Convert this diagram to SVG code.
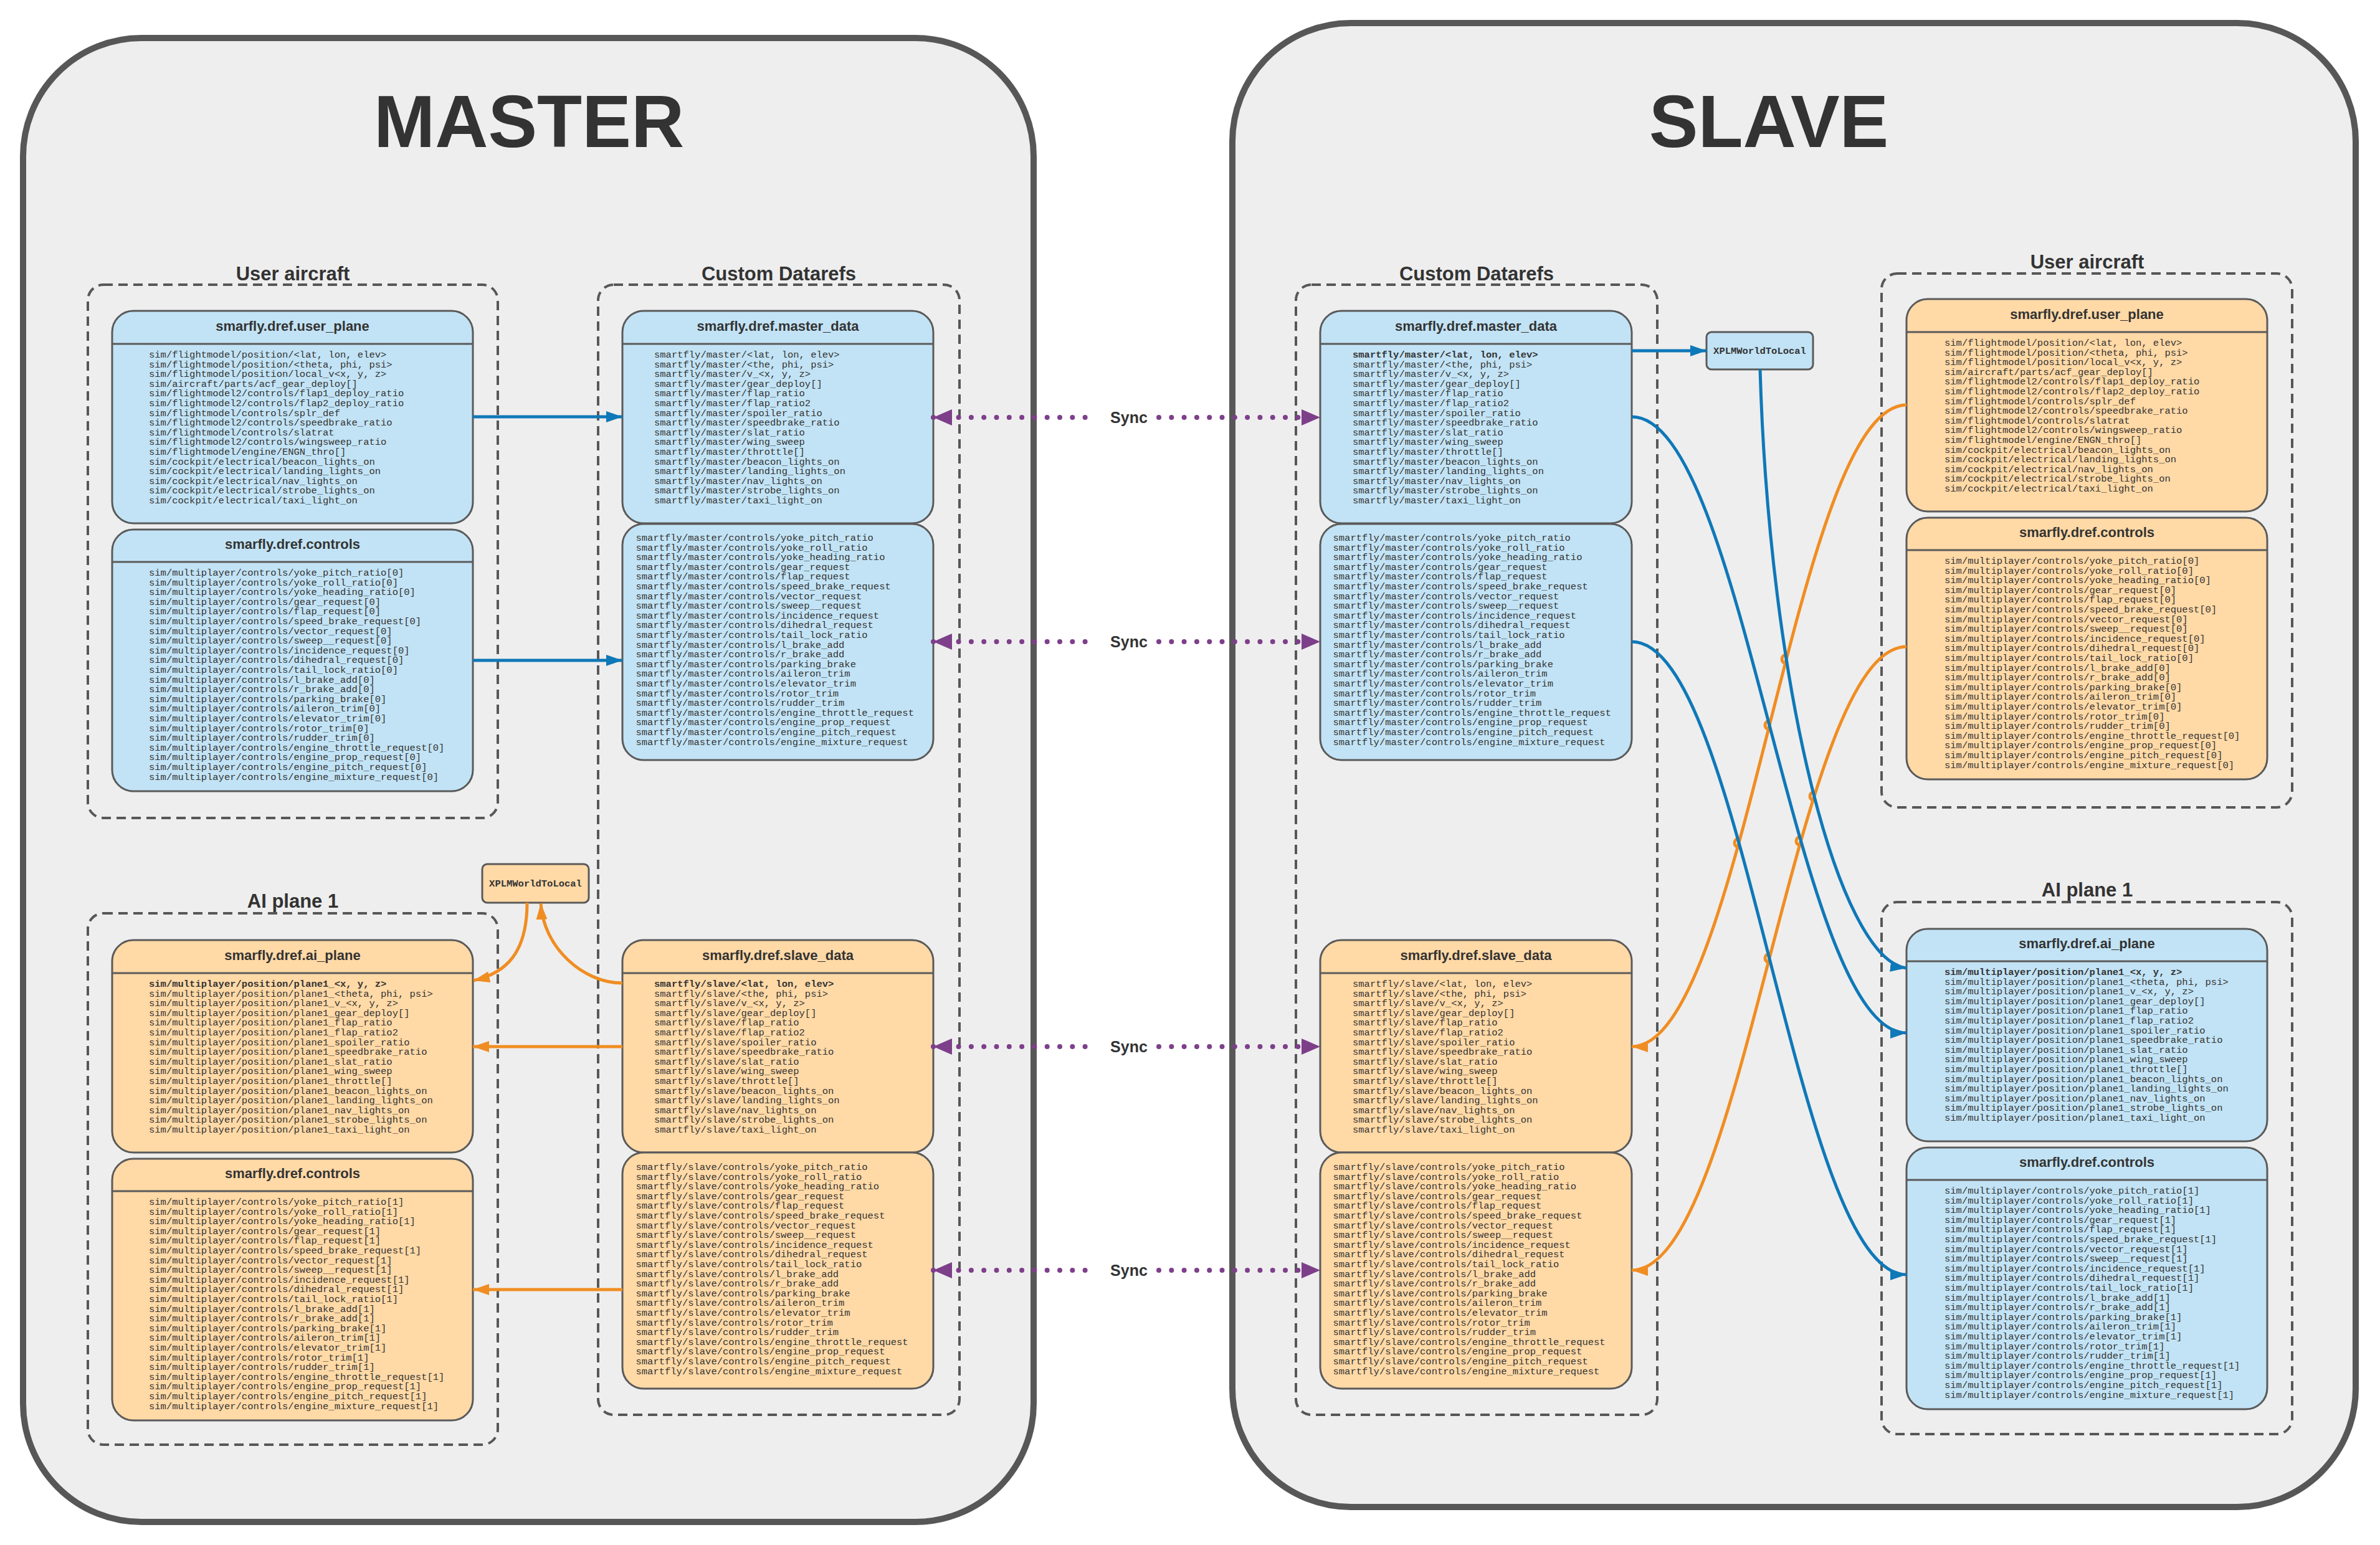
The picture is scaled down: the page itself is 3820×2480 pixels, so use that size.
<svg xmlns="http://www.w3.org/2000/svg" width="3820" height="2480" viewBox="0 0 3820 2480">
<defs>
<style>
.panel{fill:#eeeeee;stroke:#575757;stroke-width:10}
.ptitle{font-family:"Liberation Sans",Arial,sans-serif;font-weight:bold;font-size:118px;fill:#333333;text-anchor:middle}
.cluster{fill:none;stroke:#575757;stroke-width:4;stroke-dasharray:15 9}
.clabel{font-family:"Liberation Sans",Arial,sans-serif;font-weight:bold;font-size:31px;fill:#333333;text-anchor:middle}
.blue{fill:#c2e3f5;stroke:#5a5a5a;stroke-width:3}
.orange{fill:#ffd9a6;stroke:#5a5a5a;stroke-width:3}
.hdr{stroke:#5a5a5a;stroke-width:3}
.ntitle{font-family:"Liberation Sans",Arial,sans-serif;font-weight:bold;font-size:22px;fill:#333333;text-anchor:middle}
.m{font-family:"Liberation Mono","Courier New",monospace;font-size:15.5px;fill:#333333}
.xb{font-family:"Liberation Mono","Courier New",monospace;font-size:15.5px;font-weight:bold;fill:#333333;text-anchor:middle}
.eb{fill:none;stroke:#0f78b8;stroke-width:5}
.eo{fill:none;stroke:#f08d22;stroke-width:5}
.sync{fill:none;stroke:#7e3f8a;stroke-width:8;stroke-linecap:round;stroke-dasharray:0 20.3}
.slabel{font-family:"Liberation Sans",Arial,sans-serif;font-weight:bold;font-size:25px;fill:#333333;text-anchor:middle}
</style>
<marker id="ab" markerUnits="userSpaceOnUse" markerWidth="28" markerHeight="20" refX="26" refY="9" orient="auto"><path d="M0,0 L26,9 L0,18 z" fill="#0f78b8"/></marker>
<marker id="ao" markerUnits="userSpaceOnUse" markerWidth="28" markerHeight="20" refX="26" refY="9" orient="auto"><path d="M0,0 L26,9 L0,18 z" fill="#f08d22"/></marker>
<marker id="ap" markerUnits="userSpaceOnUse" markerWidth="32" markerHeight="28" refX="30" refY="13" orient="auto-start-reverse"><path d="M0,0 L30,13 L0,26 z" fill="#7e3f8a"/></marker>
</defs>
<rect x="0" y="0" width="3820" height="2480" fill="#ffffff"/>

<g id="panel-master">
<rect class="panel" x="37" y="61" width="1622" height="2382" rx="190" ry="190"/>
<text class="ptitle" x="849" y="236">MASTER</text>
</g>
<g id="panel-slave">
<rect class="panel" x="1978" y="37" width="1803" height="2382" rx="190" ry="190"/>
<text class="ptitle" x="2839" y="236">SLAVE</text>
</g>

<g id="clusters">
<rect class="cluster" x="141" y="457" width="658" height="856" rx="25"/>
<text class="clabel" x="470" y="450">User aircraft</text>
<rect class="cluster" x="960" y="457" width="580" height="1814" rx="25"/>
<text class="clabel" x="1250" y="450">Custom Datarefs</text>
<rect class="cluster" x="141" y="1466" width="658" height="853" rx="25"/>
<text class="clabel" x="470" y="1457">AI plane 1</text>
<rect class="cluster" x="2080" y="457" width="580" height="1814" rx="25"/>
<text class="clabel" x="2370" y="450">Custom Datarefs</text>
<rect class="cluster" x="3020" y="439" width="659" height="857" rx="25"/>
<text class="clabel" x="3350" y="431">User aircraft</text>
<rect class="cluster" x="3020" y="1448" width="659" height="854" rx="25"/>
<text class="clabel" x="3350" y="1439">AI plane 1</text>
</g>

<g id="m-user-plane">
<rect class="blue" x="180" y="499" width="579" height="341" rx="34"/>
<line class="hdr" x1="180" y1="552" x2="759" y2="552"/>
<text class="ntitle" x="469.5" y="531">smarfly.dref.user_plane</text>
<text class="m" x="239" y="574"><tspan x="239">sim/flightmodel/position/&lt;lat, lon, elev&gt;</tspan><tspan x="239" dy="15.6">sim/flightmodel/position/&lt;theta, phi, psi&gt;</tspan><tspan x="239" dy="15.6">sim/flightmodel/position/local_v&lt;x, y, z&gt;</tspan><tspan x="239" dy="15.6">sim/aircraft/parts/acf_gear_deploy[]</tspan><tspan x="239" dy="15.6">sim/flightmodel2/controls/flap1_deploy_ratio</tspan><tspan x="239" dy="15.6">sim/flightmodel2/controls/flap2_deploy_ratio</tspan><tspan x="239" dy="15.6">sim/flightmodel/controls/splr_def</tspan><tspan x="239" dy="15.6">sim/flightmodel2/controls/speedbrake_ratio</tspan><tspan x="239" dy="15.6">sim/flightmodel/controls/slatrat</tspan><tspan x="239" dy="15.6">sim/flightmodel2/controls/wingsweep_ratio</tspan><tspan x="239" dy="15.6">sim/flightmodel/engine/ENGN_thro[]</tspan><tspan x="239" dy="15.6">sim/cockpit/electrical/beacon_lights_on</tspan><tspan x="239" dy="15.6">sim/cockpit/electrical/landing_lights_on</tspan><tspan x="239" dy="15.6">sim/cockpit/electrical/nav_lights_on</tspan><tspan x="239" dy="15.6">sim/cockpit/electrical/strobe_lights_on</tspan><tspan x="239" dy="15.6">sim/cockpit/electrical/taxi_light_on</tspan></text>
</g>

<g id="m-user-controls">
<rect class="blue" x="180" y="850" width="579" height="420" rx="34"/>
<line class="hdr" x1="180" y1="902" x2="759" y2="902"/>
<text class="ntitle" x="469.5" y="881">smarfly.dref.controls</text>
<text class="m" x="239" y="924"><tspan x="239">sim/multiplayer/controls/yoke_pitch_ratio[0]</tspan><tspan x="239" dy="15.6">sim/multiplayer/controls/yoke_roll_ratio[0]</tspan><tspan x="239" dy="15.6">sim/multiplayer/controls/yoke_heading_ratio[0]</tspan><tspan x="239" dy="15.6">sim/multiplayer/controls/gear_request[0]</tspan><tspan x="239" dy="15.6">sim/multiplayer/controls/flap_request[0]</tspan><tspan x="239" dy="15.6">sim/multiplayer/controls/speed_brake_request[0]</tspan><tspan x="239" dy="15.6">sim/multiplayer/controls/vector_request[0]</tspan><tspan x="239" dy="15.6">sim/multiplayer/controls/sweep__request[0]</tspan><tspan x="239" dy="15.6">sim/multiplayer/controls/incidence_request[0]</tspan><tspan x="239" dy="15.6">sim/multiplayer/controls/dihedral_request[0]</tspan><tspan x="239" dy="15.6">sim/multiplayer/controls/tail_lock_ratio[0]</tspan><tspan x="239" dy="15.6">sim/multiplayer/controls/l_brake_add[0]</tspan><tspan x="239" dy="15.6">sim/multiplayer/controls/r_brake_add[0]</tspan><tspan x="239" dy="15.6">sim/multiplayer/controls/parking_brake[0]</tspan><tspan x="239" dy="15.6">sim/multiplayer/controls/aileron_trim[0]</tspan><tspan x="239" dy="15.6">sim/multiplayer/controls/elevator_trim[0]</tspan><tspan x="239" dy="15.6">sim/multiplayer/controls/rotor_trim[0]</tspan><tspan x="239" dy="15.6">sim/multiplayer/controls/rudder_trim[0]</tspan><tspan x="239" dy="15.6">sim/multiplayer/controls/engine_throttle_request[0]</tspan><tspan x="239" dy="15.6">sim/multiplayer/controls/engine_prop_request[0]</tspan><tspan x="239" dy="15.6">sim/multiplayer/controls/engine_pitch_request[0]</tspan><tspan x="239" dy="15.6">sim/multiplayer/controls/engine_mixture_request[0]</tspan></text>
</g>

<g id="m-master-data">
<rect class="blue" x="999" y="499" width="499" height="341" rx="34"/>
<line class="hdr" x1="999" y1="552" x2="1498" y2="552"/>
<text class="ntitle" x="1248.5" y="531">smarfly.dref.master_data</text>
<text class="m" x="1050" y="574"><tspan x="1050">smartfly/master/&lt;lat, lon, elev&gt;</tspan><tspan x="1050" dy="15.6">smartfly/master/&lt;the, phi, psi&gt;</tspan><tspan x="1050" dy="15.6">smartfly/master/v_&lt;x, y, z&gt;</tspan><tspan x="1050" dy="15.6">smartfly/master/gear_deploy[]</tspan><tspan x="1050" dy="15.6">smartfly/master/flap_ratio</tspan><tspan x="1050" dy="15.6">smartfly/master/flap_ratio2</tspan><tspan x="1050" dy="15.6">smartfly/master/spoiler_ratio</tspan><tspan x="1050" dy="15.6">smartfly/master/speedbrake_ratio</tspan><tspan x="1050" dy="15.6">smartfly/master/slat_ratio</tspan><tspan x="1050" dy="15.6">smartfly/master/wing_sweep</tspan><tspan x="1050" dy="15.6">smartfly/master/throttle[]</tspan><tspan x="1050" dy="15.6">smartfly/master/beacon_lights_on</tspan><tspan x="1050" dy="15.6">smartfly/master/landing_lights_on</tspan><tspan x="1050" dy="15.6">smartfly/master/nav_lights_on</tspan><tspan x="1050" dy="15.6">smartfly/master/strobe_lights_on</tspan><tspan x="1050" dy="15.6">smartfly/master/taxi_light_on</tspan></text>
</g>

<g id="m-master-controls">
<rect class="blue" x="999" y="841" width="499" height="379" rx="34"/>
<text class="m" x="1020.5" y="868"><tspan x="1020.5">smartfly/master/controls/yoke_pitch_ratio</tspan><tspan x="1020.5" dy="15.6">smartfly/master/controls/yoke_roll_ratio</tspan><tspan x="1020.5" dy="15.6">smartfly/master/controls/yoke_heading_ratio</tspan><tspan x="1020.5" dy="15.6">smartfly/master/controls/gear_request</tspan><tspan x="1020.5" dy="15.6">smartfly/master/controls/flap_request</tspan><tspan x="1020.5" dy="15.6">smartfly/master/controls/speed_brake_request</tspan><tspan x="1020.5" dy="15.6">smartfly/master/controls/vector_request</tspan><tspan x="1020.5" dy="15.6">smartfly/master/controls/sweep__request</tspan><tspan x="1020.5" dy="15.6">smartfly/master/controls/incidence_request</tspan><tspan x="1020.5" dy="15.6">smartfly/master/controls/dihedral_request</tspan><tspan x="1020.5" dy="15.6">smartfly/master/controls/tail_lock_ratio</tspan><tspan x="1020.5" dy="15.6">smartfly/master/controls/l_brake_add</tspan><tspan x="1020.5" dy="15.6">smartfly/master/controls/r_brake_add</tspan><tspan x="1020.5" dy="15.6">smartfly/master/controls/parking_brake</tspan><tspan x="1020.5" dy="15.6">smartfly/master/controls/aileron_trim</tspan><tspan x="1020.5" dy="15.6">smartfly/master/controls/elevator_trim</tspan><tspan x="1020.5" dy="15.6">smartfly/master/controls/rotor_trim</tspan><tspan x="1020.5" dy="15.6">smartfly/master/controls/rudder_trim</tspan><tspan x="1020.5" dy="15.6">smartfly/master/controls/engine_throttle_request</tspan><tspan x="1020.5" dy="15.6">smartfly/master/controls/engine_prop_request</tspan><tspan x="1020.5" dy="15.6">smartfly/master/controls/engine_pitch_request</tspan><tspan x="1020.5" dy="15.6">smartfly/master/controls/engine_mixture_request</tspan></text>
</g>

<g id="m-ai-plane">
<rect class="orange" x="180" y="1509" width="579" height="341" rx="34"/>
<line class="hdr" x1="180" y1="1562" x2="759" y2="1562"/>
<text class="ntitle" x="469.5" y="1541">smarfly.dref.ai_plane</text>
<text class="m" x="239" y="1584"><tspan x="239" font-weight="bold">sim/multiplayer/position/plane1_&lt;x, y, z&gt;</tspan><tspan x="239" dy="15.6">sim/multiplayer/position/plane1_&lt;theta, phi, psi&gt;</tspan><tspan x="239" dy="15.6">sim/multiplayer/position/plane1_v_&lt;x, y, z&gt;</tspan><tspan x="239" dy="15.6">sim/multiplayer/position/plane1_gear_deploy[]</tspan><tspan x="239" dy="15.6">sim/multiplayer/position/plane1_flap_ratio</tspan><tspan x="239" dy="15.6">sim/multiplayer/position/plane1_flap_ratio2</tspan><tspan x="239" dy="15.6">sim/multiplayer/position/plane1_spoiler_ratio</tspan><tspan x="239" dy="15.6">sim/multiplayer/position/plane1_speedbrake_ratio</tspan><tspan x="239" dy="15.6">sim/multiplayer/position/plane1_slat_ratio</tspan><tspan x="239" dy="15.6">sim/multiplayer/position/plane1_wing_sweep</tspan><tspan x="239" dy="15.6">sim/multiplayer/position/plane1_throttle[]</tspan><tspan x="239" dy="15.6">sim/multiplayer/position/plane1_beacon_lights_on</tspan><tspan x="239" dy="15.6">sim/multiplayer/position/plane1_landing_lights_on</tspan><tspan x="239" dy="15.6">sim/multiplayer/position/plane1_nav_lights_on</tspan><tspan x="239" dy="15.6">sim/multiplayer/position/plane1_strobe_lights_on</tspan><tspan x="239" dy="15.6">sim/multiplayer/position/plane1_taxi_light_on</tspan></text>
</g>

<g id="m-ai-controls">
<rect class="orange" x="180" y="1860" width="579" height="420" rx="34"/>
<line class="hdr" x1="180" y1="1912" x2="759" y2="1912"/>
<text class="ntitle" x="469.5" y="1891">smarfly.dref.controls</text>
<text class="m" x="239" y="1934"><tspan x="239">sim/multiplayer/controls/yoke_pitch_ratio[1]</tspan><tspan x="239" dy="15.6">sim/multiplayer/controls/yoke_roll_ratio[1]</tspan><tspan x="239" dy="15.6">sim/multiplayer/controls/yoke_heading_ratio[1]</tspan><tspan x="239" dy="15.6">sim/multiplayer/controls/gear_request[1]</tspan><tspan x="239" dy="15.6">sim/multiplayer/controls/flap_request[1]</tspan><tspan x="239" dy="15.6">sim/multiplayer/controls/speed_brake_request[1]</tspan><tspan x="239" dy="15.6">sim/multiplayer/controls/vector_request[1]</tspan><tspan x="239" dy="15.6">sim/multiplayer/controls/sweep__request[1]</tspan><tspan x="239" dy="15.6">sim/multiplayer/controls/incidence_request[1]</tspan><tspan x="239" dy="15.6">sim/multiplayer/controls/dihedral_request[1]</tspan><tspan x="239" dy="15.6">sim/multiplayer/controls/tail_lock_ratio[1]</tspan><tspan x="239" dy="15.6">sim/multiplayer/controls/l_brake_add[1]</tspan><tspan x="239" dy="15.6">sim/multiplayer/controls/r_brake_add[1]</tspan><tspan x="239" dy="15.6">sim/multiplayer/controls/parking_brake[1]</tspan><tspan x="239" dy="15.6">sim/multiplayer/controls/aileron_trim[1]</tspan><tspan x="239" dy="15.6">sim/multiplayer/controls/elevator_trim[1]</tspan><tspan x="239" dy="15.6">sim/multiplayer/controls/rotor_trim[1]</tspan><tspan x="239" dy="15.6">sim/multiplayer/controls/rudder_trim[1]</tspan><tspan x="239" dy="15.6">sim/multiplayer/controls/engine_throttle_request[1]</tspan><tspan x="239" dy="15.6">sim/multiplayer/controls/engine_prop_request[1]</tspan><tspan x="239" dy="15.6">sim/multiplayer/controls/engine_pitch_request[1]</tspan><tspan x="239" dy="15.6">sim/multiplayer/controls/engine_mixture_request[1]</tspan></text>
</g>

<g id="m-slave-data">
<rect class="orange" x="999" y="1509" width="499" height="341" rx="34"/>
<line class="hdr" x1="999" y1="1562" x2="1498" y2="1562"/>
<text class="ntitle" x="1248.5" y="1541">smarfly.dref.slave_data</text>
<text class="m" x="1050" y="1584"><tspan x="1050" font-weight="bold">smartfly/slave/&lt;lat, lon, elev&gt;</tspan><tspan x="1050" dy="15.6">smartfly/slave/&lt;the, phi, psi&gt;</tspan><tspan x="1050" dy="15.6">smartfly/slave/v_&lt;x, y, z&gt;</tspan><tspan x="1050" dy="15.6">smartfly/slave/gear_deploy[]</tspan><tspan x="1050" dy="15.6">smartfly/slave/flap_ratio</tspan><tspan x="1050" dy="15.6">smartfly/slave/flap_ratio2</tspan><tspan x="1050" dy="15.6">smartfly/slave/spoiler_ratio</tspan><tspan x="1050" dy="15.6">smartfly/slave/speedbrake_ratio</tspan><tspan x="1050" dy="15.6">smartfly/slave/slat_ratio</tspan><tspan x="1050" dy="15.6">smartfly/slave/wing_sweep</tspan><tspan x="1050" dy="15.6">smartfly/slave/throttle[]</tspan><tspan x="1050" dy="15.6">smartfly/slave/beacon_lights_on</tspan><tspan x="1050" dy="15.6">smartfly/slave/landing_lights_on</tspan><tspan x="1050" dy="15.6">smartfly/slave/nav_lights_on</tspan><tspan x="1050" dy="15.6">smartfly/slave/strobe_lights_on</tspan><tspan x="1050" dy="15.6">smartfly/slave/taxi_light_on</tspan></text>
</g>

<g id="m-slave-controls">
<rect class="orange" x="999" y="1850" width="499" height="379" rx="34"/>
<text class="m" x="1020.5" y="1878"><tspan x="1020.5">smartfly/slave/controls/yoke_pitch_ratio</tspan><tspan x="1020.5" dy="15.6">smartfly/slave/controls/yoke_roll_ratio</tspan><tspan x="1020.5" dy="15.6">smartfly/slave/controls/yoke_heading_ratio</tspan><tspan x="1020.5" dy="15.6">smartfly/slave/controls/gear_request</tspan><tspan x="1020.5" dy="15.6">smartfly/slave/controls/flap_request</tspan><tspan x="1020.5" dy="15.6">smartfly/slave/controls/speed_brake_request</tspan><tspan x="1020.5" dy="15.6">smartfly/slave/controls/vector_request</tspan><tspan x="1020.5" dy="15.6">smartfly/slave/controls/sweep__request</tspan><tspan x="1020.5" dy="15.6">smartfly/slave/controls/incidence_request</tspan><tspan x="1020.5" dy="15.6">smartfly/slave/controls/dihedral_request</tspan><tspan x="1020.5" dy="15.6">smartfly/slave/controls/tail_lock_ratio</tspan><tspan x="1020.5" dy="15.6">smartfly/slave/controls/l_brake_add</tspan><tspan x="1020.5" dy="15.6">smartfly/slave/controls/r_brake_add</tspan><tspan x="1020.5" dy="15.6">smartfly/slave/controls/parking_brake</tspan><tspan x="1020.5" dy="15.6">smartfly/slave/controls/aileron_trim</tspan><tspan x="1020.5" dy="15.6">smartfly/slave/controls/elevator_trim</tspan><tspan x="1020.5" dy="15.6">smartfly/slave/controls/rotor_trim</tspan><tspan x="1020.5" dy="15.6">smartfly/slave/controls/rudder_trim</tspan><tspan x="1020.5" dy="15.6">smartfly/slave/controls/engine_throttle_request</tspan><tspan x="1020.5" dy="15.6">smartfly/slave/controls/engine_prop_request</tspan><tspan x="1020.5" dy="15.6">smartfly/slave/controls/engine_pitch_request</tspan><tspan x="1020.5" dy="15.6">smartfly/slave/controls/engine_mixture_request</tspan></text>
</g>

<g id="m-xplm">
<rect class="orange" x="774" y="1387" width="171" height="62" rx="8"/>
<text class="xb" x="859.5" y="1423">XPLMWorldToLocal</text>
</g>

<g id="s-master-data">
<rect class="blue" x="2119" y="499" width="500" height="341" rx="34"/>
<line class="hdr" x1="2119" y1="552" x2="2619" y2="552"/>
<text class="ntitle" x="2369" y="531">smarfly.dref.master_data</text>
<text class="m" x="2171" y="574"><tspan x="2171" font-weight="bold">smartfly/master/&lt;lat, lon, elev&gt;</tspan><tspan x="2171" dy="15.6">smartfly/master/&lt;the, phi, psi&gt;</tspan><tspan x="2171" dy="15.6">smartfly/master/v_&lt;x, y, z&gt;</tspan><tspan x="2171" dy="15.6">smartfly/master/gear_deploy[]</tspan><tspan x="2171" dy="15.6">smartfly/master/flap_ratio</tspan><tspan x="2171" dy="15.6">smartfly/master/flap_ratio2</tspan><tspan x="2171" dy="15.6">smartfly/master/spoiler_ratio</tspan><tspan x="2171" dy="15.6">smartfly/master/speedbrake_ratio</tspan><tspan x="2171" dy="15.6">smartfly/master/slat_ratio</tspan><tspan x="2171" dy="15.6">smartfly/master/wing_sweep</tspan><tspan x="2171" dy="15.6">smartfly/master/throttle[]</tspan><tspan x="2171" dy="15.6">smartfly/master/beacon_lights_on</tspan><tspan x="2171" dy="15.6">smartfly/master/landing_lights_on</tspan><tspan x="2171" dy="15.6">smartfly/master/nav_lights_on</tspan><tspan x="2171" dy="15.6">smartfly/master/strobe_lights_on</tspan><tspan x="2171" dy="15.6">smartfly/master/taxi_light_on</tspan></text>
</g>

<g id="s-master-controls">
<rect class="blue" x="2119" y="841" width="500" height="379" rx="34"/>
<text class="m" x="2139.5" y="868"><tspan x="2139.5">smartfly/master/controls/yoke_pitch_ratio</tspan><tspan x="2139.5" dy="15.6">smartfly/master/controls/yoke_roll_ratio</tspan><tspan x="2139.5" dy="15.6">smartfly/master/controls/yoke_heading_ratio</tspan><tspan x="2139.5" dy="15.6">smartfly/master/controls/gear_request</tspan><tspan x="2139.5" dy="15.6">smartfly/master/controls/flap_request</tspan><tspan x="2139.5" dy="15.6">smartfly/master/controls/speed_brake_request</tspan><tspan x="2139.5" dy="15.6">smartfly/master/controls/vector_request</tspan><tspan x="2139.5" dy="15.6">smartfly/master/controls/sweep__request</tspan><tspan x="2139.5" dy="15.6">smartfly/master/controls/incidence_request</tspan><tspan x="2139.5" dy="15.6">smartfly/master/controls/dihedral_request</tspan><tspan x="2139.5" dy="15.6">smartfly/master/controls/tail_lock_ratio</tspan><tspan x="2139.5" dy="15.6">smartfly/master/controls/l_brake_add</tspan><tspan x="2139.5" dy="15.6">smartfly/master/controls/r_brake_add</tspan><tspan x="2139.5" dy="15.6">smartfly/master/controls/parking_brake</tspan><tspan x="2139.5" dy="15.6">smartfly/master/controls/aileron_trim</tspan><tspan x="2139.5" dy="15.6">smartfly/master/controls/elevator_trim</tspan><tspan x="2139.5" dy="15.6">smartfly/master/controls/rotor_trim</tspan><tspan x="2139.5" dy="15.6">smartfly/master/controls/rudder_trim</tspan><tspan x="2139.5" dy="15.6">smartfly/master/controls/engine_throttle_request</tspan><tspan x="2139.5" dy="15.6">smartfly/master/controls/engine_prop_request</tspan><tspan x="2139.5" dy="15.6">smartfly/master/controls/engine_pitch_request</tspan><tspan x="2139.5" dy="15.6">smartfly/master/controls/engine_mixture_request</tspan></text>
</g>

<g id="s-slave-data">
<rect class="orange" x="2119" y="1509" width="500" height="341" rx="34"/>
<line class="hdr" x1="2119" y1="1562" x2="2619" y2="1562"/>
<text class="ntitle" x="2369" y="1541">smarfly.dref.slave_data</text>
<text class="m" x="2171" y="1584"><tspan x="2171">smartfly/slave/&lt;lat, lon, elev&gt;</tspan><tspan x="2171" dy="15.6">smartfly/slave/&lt;the, phi, psi&gt;</tspan><tspan x="2171" dy="15.6">smartfly/slave/v_&lt;x, y, z&gt;</tspan><tspan x="2171" dy="15.6">smartfly/slave/gear_deploy[]</tspan><tspan x="2171" dy="15.6">smartfly/slave/flap_ratio</tspan><tspan x="2171" dy="15.6">smartfly/slave/flap_ratio2</tspan><tspan x="2171" dy="15.6">smartfly/slave/spoiler_ratio</tspan><tspan x="2171" dy="15.6">smartfly/slave/speedbrake_ratio</tspan><tspan x="2171" dy="15.6">smartfly/slave/slat_ratio</tspan><tspan x="2171" dy="15.6">smartfly/slave/wing_sweep</tspan><tspan x="2171" dy="15.6">smartfly/slave/throttle[]</tspan><tspan x="2171" dy="15.6">smartfly/slave/beacon_lights_on</tspan><tspan x="2171" dy="15.6">smartfly/slave/landing_lights_on</tspan><tspan x="2171" dy="15.6">smartfly/slave/nav_lights_on</tspan><tspan x="2171" dy="15.6">smartfly/slave/strobe_lights_on</tspan><tspan x="2171" dy="15.6">smartfly/slave/taxi_light_on</tspan></text>
</g>

<g id="s-slave-controls">
<rect class="orange" x="2119" y="1850" width="500" height="379" rx="34"/>
<text class="m" x="2139.5" y="1878"><tspan x="2139.5">smartfly/slave/controls/yoke_pitch_ratio</tspan><tspan x="2139.5" dy="15.6">smartfly/slave/controls/yoke_roll_ratio</tspan><tspan x="2139.5" dy="15.6">smartfly/slave/controls/yoke_heading_ratio</tspan><tspan x="2139.5" dy="15.6">smartfly/slave/controls/gear_request</tspan><tspan x="2139.5" dy="15.6">smartfly/slave/controls/flap_request</tspan><tspan x="2139.5" dy="15.6">smartfly/slave/controls/speed_brake_request</tspan><tspan x="2139.5" dy="15.6">smartfly/slave/controls/vector_request</tspan><tspan x="2139.5" dy="15.6">smartfly/slave/controls/sweep__request</tspan><tspan x="2139.5" dy="15.6">smartfly/slave/controls/incidence_request</tspan><tspan x="2139.5" dy="15.6">smartfly/slave/controls/dihedral_request</tspan><tspan x="2139.5" dy="15.6">smartfly/slave/controls/tail_lock_ratio</tspan><tspan x="2139.5" dy="15.6">smartfly/slave/controls/l_brake_add</tspan><tspan x="2139.5" dy="15.6">smartfly/slave/controls/r_brake_add</tspan><tspan x="2139.5" dy="15.6">smartfly/slave/controls/parking_brake</tspan><tspan x="2139.5" dy="15.6">smartfly/slave/controls/aileron_trim</tspan><tspan x="2139.5" dy="15.6">smartfly/slave/controls/elevator_trim</tspan><tspan x="2139.5" dy="15.6">smartfly/slave/controls/rotor_trim</tspan><tspan x="2139.5" dy="15.6">smartfly/slave/controls/rudder_trim</tspan><tspan x="2139.5" dy="15.6">smartfly/slave/controls/engine_throttle_request</tspan><tspan x="2139.5" dy="15.6">smartfly/slave/controls/engine_prop_request</tspan><tspan x="2139.5" dy="15.6">smartfly/slave/controls/engine_pitch_request</tspan><tspan x="2139.5" dy="15.6">smartfly/slave/controls/engine_mixture_request</tspan></text>
</g>

<g id="s-xplm">
<rect class="blue" x="2739" y="533" width="171" height="60" rx="8"/>
<text class="xb" x="2824.5" y="568">XPLMWorldToLocal</text>
</g>

<g id="s-user-plane">
<rect class="orange" x="3060" y="480" width="579" height="341" rx="34"/>
<line class="hdr" x1="3060" y1="533" x2="3639" y2="533"/>
<text class="ntitle" x="3349.5" y="512">smarfly.dref.user_plane</text>
<text class="m" x="3121" y="555"><tspan x="3121">sim/flightmodel/position/&lt;lat, lon, elev&gt;</tspan><tspan x="3121" dy="15.6">sim/flightmodel/position/&lt;theta, phi, psi&gt;</tspan><tspan x="3121" dy="15.6">sim/flightmodel/position/local_v&lt;x, y, z&gt;</tspan><tspan x="3121" dy="15.6">sim/aircraft/parts/acf_gear_deploy[]</tspan><tspan x="3121" dy="15.6">sim/flightmodel2/controls/flap1_deploy_ratio</tspan><tspan x="3121" dy="15.6">sim/flightmodel2/controls/flap2_deploy_ratio</tspan><tspan x="3121" dy="15.6">sim/flightmodel/controls/splr_def</tspan><tspan x="3121" dy="15.6">sim/flightmodel2/controls/speedbrake_ratio</tspan><tspan x="3121" dy="15.6">sim/flightmodel/controls/slatrat</tspan><tspan x="3121" dy="15.6">sim/flightmodel2/controls/wingsweep_ratio</tspan><tspan x="3121" dy="15.6">sim/flightmodel/engine/ENGN_thro[]</tspan><tspan x="3121" dy="15.6">sim/cockpit/electrical/beacon_lights_on</tspan><tspan x="3121" dy="15.6">sim/cockpit/electrical/landing_lights_on</tspan><tspan x="3121" dy="15.6">sim/cockpit/electrical/nav_lights_on</tspan><tspan x="3121" dy="15.6">sim/cockpit/electrical/strobe_lights_on</tspan><tspan x="3121" dy="15.6">sim/cockpit/electrical/taxi_light_on</tspan></text>
</g>

<g id="s-user-controls">
<rect class="orange" x="3060" y="831" width="579" height="420" rx="34"/>
<line class="hdr" x1="3060" y1="883" x2="3639" y2="883"/>
<text class="ntitle" x="3349.5" y="862">smarfly.dref.controls</text>
<text class="m" x="3121" y="905"><tspan x="3121">sim/multiplayer/controls/yoke_pitch_ratio[0]</tspan><tspan x="3121" dy="15.6">sim/multiplayer/controls/yoke_roll_ratio[0]</tspan><tspan x="3121" dy="15.6">sim/multiplayer/controls/yoke_heading_ratio[0]</tspan><tspan x="3121" dy="15.6">sim/multiplayer/controls/gear_request[0]</tspan><tspan x="3121" dy="15.6">sim/multiplayer/controls/flap_request[0]</tspan><tspan x="3121" dy="15.6">sim/multiplayer/controls/speed_brake_request[0]</tspan><tspan x="3121" dy="15.6">sim/multiplayer/controls/vector_request[0]</tspan><tspan x="3121" dy="15.6">sim/multiplayer/controls/sweep__request[0]</tspan><tspan x="3121" dy="15.6">sim/multiplayer/controls/incidence_request[0]</tspan><tspan x="3121" dy="15.6">sim/multiplayer/controls/dihedral_request[0]</tspan><tspan x="3121" dy="15.6">sim/multiplayer/controls/tail_lock_ratio[0]</tspan><tspan x="3121" dy="15.6">sim/multiplayer/controls/l_brake_add[0]</tspan><tspan x="3121" dy="15.6">sim/multiplayer/controls/r_brake_add[0]</tspan><tspan x="3121" dy="15.6">sim/multiplayer/controls/parking_brake[0]</tspan><tspan x="3121" dy="15.6">sim/multiplayer/controls/aileron_trim[0]</tspan><tspan x="3121" dy="15.6">sim/multiplayer/controls/elevator_trim[0]</tspan><tspan x="3121" dy="15.6">sim/multiplayer/controls/rotor_trim[0]</tspan><tspan x="3121" dy="15.6">sim/multiplayer/controls/rudder_trim[0]</tspan><tspan x="3121" dy="15.6">sim/multiplayer/controls/engine_throttle_request[0]</tspan><tspan x="3121" dy="15.6">sim/multiplayer/controls/engine_prop_request[0]</tspan><tspan x="3121" dy="15.6">sim/multiplayer/controls/engine_pitch_request[0]</tspan><tspan x="3121" dy="15.6">sim/multiplayer/controls/engine_mixture_request[0]</tspan></text>
</g>

<g id="s-ai-plane">
<rect class="blue" x="3060" y="1491" width="579" height="341" rx="34"/>
<line class="hdr" x1="3060" y1="1543" x2="3639" y2="1543"/>
<text class="ntitle" x="3349.5" y="1522">smarfly.dref.ai_plane</text>
<text class="m" x="3121" y="1565"><tspan x="3121" font-weight="bold">sim/multiplayer/position/plane1_&lt;x, y, z&gt;</tspan><tspan x="3121" dy="15.6">sim/multiplayer/position/plane1_&lt;theta, phi, psi&gt;</tspan><tspan x="3121" dy="15.6">sim/multiplayer/position/plane1_v_&lt;x, y, z&gt;</tspan><tspan x="3121" dy="15.6">sim/multiplayer/position/plane1_gear_deploy[]</tspan><tspan x="3121" dy="15.6">sim/multiplayer/position/plane1_flap_ratio</tspan><tspan x="3121" dy="15.6">sim/multiplayer/position/plane1_flap_ratio2</tspan><tspan x="3121" dy="15.6">sim/multiplayer/position/plane1_spoiler_ratio</tspan><tspan x="3121" dy="15.6">sim/multiplayer/position/plane1_speedbrake_ratio</tspan><tspan x="3121" dy="15.6">sim/multiplayer/position/plane1_slat_ratio</tspan><tspan x="3121" dy="15.6">sim/multiplayer/position/plane1_wing_sweep</tspan><tspan x="3121" dy="15.6">sim/multiplayer/position/plane1_throttle[]</tspan><tspan x="3121" dy="15.6">sim/multiplayer/position/plane1_beacon_lights_on</tspan><tspan x="3121" dy="15.6">sim/multiplayer/position/plane1_landing_lights_on</tspan><tspan x="3121" dy="15.6">sim/multiplayer/position/plane1_nav_lights_on</tspan><tspan x="3121" dy="15.6">sim/multiplayer/position/plane1_strobe_lights_on</tspan><tspan x="3121" dy="15.6">sim/multiplayer/position/plane1_taxi_light_on</tspan></text>
</g>

<g id="s-ai-controls">
<rect class="blue" x="3060" y="1842" width="579" height="420" rx="34"/>
<line class="hdr" x1="3060" y1="1894" x2="3639" y2="1894"/>
<text class="ntitle" x="3349.5" y="1873">smarfly.dref.controls</text>
<text class="m" x="3121" y="1916"><tspan x="3121">sim/multiplayer/controls/yoke_pitch_ratio[1]</tspan><tspan x="3121" dy="15.6">sim/multiplayer/controls/yoke_roll_ratio[1]</tspan><tspan x="3121" dy="15.6">sim/multiplayer/controls/yoke_heading_ratio[1]</tspan><tspan x="3121" dy="15.6">sim/multiplayer/controls/gear_request[1]</tspan><tspan x="3121" dy="15.6">sim/multiplayer/controls/flap_request[1]</tspan><tspan x="3121" dy="15.6">sim/multiplayer/controls/speed_brake_request[1]</tspan><tspan x="3121" dy="15.6">sim/multiplayer/controls/vector_request[1]</tspan><tspan x="3121" dy="15.6">sim/multiplayer/controls/sweep__request[1]</tspan><tspan x="3121" dy="15.6">sim/multiplayer/controls/incidence_request[1]</tspan><tspan x="3121" dy="15.6">sim/multiplayer/controls/dihedral_request[1]</tspan><tspan x="3121" dy="15.6">sim/multiplayer/controls/tail_lock_ratio[1]</tspan><tspan x="3121" dy="15.6">sim/multiplayer/controls/l_brake_add[1]</tspan><tspan x="3121" dy="15.6">sim/multiplayer/controls/r_brake_add[1]</tspan><tspan x="3121" dy="15.6">sim/multiplayer/controls/parking_brake[1]</tspan><tspan x="3121" dy="15.6">sim/multiplayer/controls/aileron_trim[1]</tspan><tspan x="3121" dy="15.6">sim/multiplayer/controls/elevator_trim[1]</tspan><tspan x="3121" dy="15.6">sim/multiplayer/controls/rotor_trim[1]</tspan><tspan x="3121" dy="15.6">sim/multiplayer/controls/rudder_trim[1]</tspan><tspan x="3121" dy="15.6">sim/multiplayer/controls/engine_throttle_request[1]</tspan><tspan x="3121" dy="15.6">sim/multiplayer/controls/engine_prop_request[1]</tspan><tspan x="3121" dy="15.6">sim/multiplayer/controls/engine_pitch_request[1]</tspan><tspan x="3121" dy="15.6">sim/multiplayer/controls/engine_mixture_request[1]</tspan></text>
</g>

<g id="connectors">
<path class="eo" d="M999,1680 L759,1680" marker-end="url(#ao)"/>
<path class="eo" d="M999,2070 L759,2070" marker-end="url(#ao)"/>
<path class="eo" d="M846,1449 C846,1530 812,1562 760,1574" marker-end="url(#ao)"/>
<path class="eo" d="M999,1578 C935,1578 872,1520 868,1450" marker-end="url(#ao)"/>
<path class="eo" d="M3060,650 C2880,650 2800,1680 2619,1680" marker-end="url(#ao)"/>
<path class="eo" d="M3060,1038 C2880,1038 2800,2039 2619,2039" marker-end="url(#ao)"/>
<g class="eo">
<path d="M2867,1051 a7,7 0 0 0 0,14"/>
<path d="M2840,1157 a7,7 0 0 0 0,14"/>
<path d="M2912,1271 a7,7 0 0 0 0,14"/>
<path d="M2791,1346 a7,7 0 0 0 0,14"/>
<path d="M2890,1343 a7,7 0 0 0 0,14"/>
<path d="M2840,1531 a7,7 0 0 0 0,14"/>
</g>
<path class="eb" d="M759,669 L999,669" marker-end="url(#ab)"/>
<path class="eb" d="M759,1060 L999,1060" marker-end="url(#ab)"/>
<path class="eb" d="M2619,563 L2739,563" marker-end="url(#ab)"/>
<path class="eb" d="M2825,593 C2840,1100 2950,1540 3060,1554" marker-end="url(#ab)"/>
<path class="eb" d="M2619,669 C2800,669 2880,1658 3060,1658" marker-end="url(#ab)"/>
<path class="eb" d="M2619,1030 C2800,1030 2880,2046 3060,2046" marker-end="url(#ab)"/>
<path class="sync" d="M1498,670 L1760,670" marker-start="url(#ap)"/>
<path class="sync" d="M1860,670 L2119,670" marker-end="url(#ap)"/>
<text class="slabel" x="1812" y="679">Sync</text>
<path class="sync" d="M1498,1030 L1760,1030" marker-start="url(#ap)"/>
<path class="sync" d="M1860,1030 L2119,1030" marker-end="url(#ap)"/>
<text class="slabel" x="1812" y="1039">Sync</text>
<path class="sync" d="M1498,1680 L1760,1680" marker-start="url(#ap)"/>
<path class="sync" d="M1860,1680 L2119,1680" marker-end="url(#ap)"/>
<text class="slabel" x="1812" y="1689">Sync</text>
<path class="sync" d="M1498,2039 L1760,2039" marker-start="url(#ap)"/>
<path class="sync" d="M1860,2039 L2119,2039" marker-end="url(#ap)"/>
<text class="slabel" x="1812" y="2048">Sync</text>
</g>
</svg>
